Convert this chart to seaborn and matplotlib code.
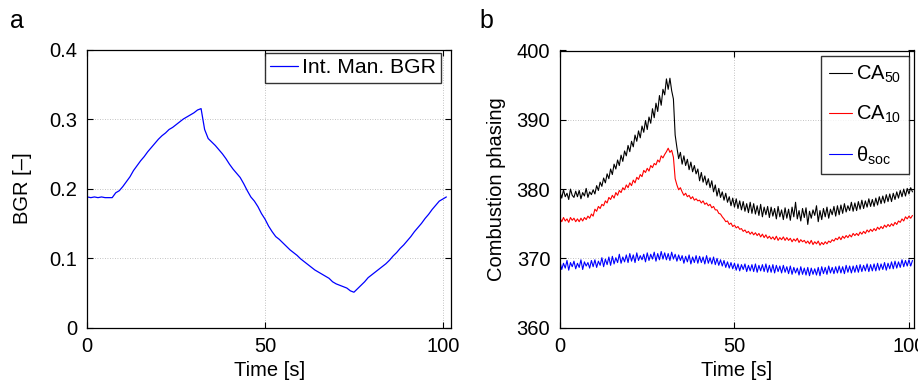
import numpy as np
import pandas as pd
import matplotlib
matplotlib.use("Agg")
import matplotlib.pyplot as plt
import seaborn as sns

# ---------------- data ----------------
bgr_time = np.arange(0, 102, 1.0)
bgr = [0.188, 0.187, 0.188, 0.187, 0.188, 0.187, 0.187, 0.187, 0.194, 0.197,
       0.203, 0.210, 0.217, 0.226, 0.233, 0.240, 0.246, 0.253, 0.259, 0.265,
       0.271, 0.276, 0.280, 0.285, 0.288, 0.292, 0.296, 0.300, 0.303, 0.306,
       0.309, 0.313, 0.315, 0.285, 0.272, 0.267, 0.262, 0.256, 0.250, 0.243,
       0.235, 0.228, 0.222, 0.216, 0.207, 0.197, 0.188, 0.182, 0.174, 0.164,
       0.156, 0.146, 0.138, 0.131, 0.127, 0.122, 0.117, 0.112, 0.108, 0.104,
       0.099, 0.095, 0.091, 0.087, 0.083, 0.080, 0.077, 0.074, 0.071, 0.066,
       0.063, 0.061, 0.059, 0.057, 0.053, 0.051, 0.056, 0.061, 0.066, 0.072,
       0.076, 0.080, 0.084, 0.088, 0.092, 0.097, 0.103, 0.108, 0.114, 0.119,
       0.125, 0.131, 0.138, 0.144, 0.150, 0.157, 0.163, 0.170, 0.176, 0.182,
       0.185, 0.188]

comb_time = np.arange(0, 101.01, 0.5)
ca50 = [379.6, 378.7, 379.9, 378.9, 379.4, 378.5, 380.0, 379.1, 378.8, 379.7,
        378.9, 379.8, 378.6, 379.5, 379.0, 380.1, 378.8, 379.6, 379.2, 379.9,
        379.3, 380.5, 379.8, 381.0, 380.4, 381.6, 380.9, 382.2, 381.5, 382.9,
        382.1, 383.6, 382.9, 384.2, 383.4, 384.9, 384.0, 385.5, 384.8, 386.3,
        385.4, 386.9, 386.1, 387.8, 386.9, 388.4, 387.4, 389.1, 388.2, 389.9,
        388.6, 390.4, 389.5, 391.6, 390.3, 392.4, 391.2, 393.5, 392.1, 394.4,
        393.6, 395.9, 394.4, 396.0, 394.2, 393.0, 387.8, 386.0, 384.4, 385.3,
        383.6, 384.8, 383.4, 384.3, 382.8, 383.9, 382.5, 383.4, 382.2, 382.9,
        381.2, 382.4, 381.0, 381.9, 380.6, 381.5, 380.2, 381.2, 379.6, 380.6,
        379.0, 380.1, 378.8, 379.6, 378.4, 379.4, 378.1, 378.9, 377.6, 378.7,
        377.4, 378.6, 377.2, 378.3, 377.0, 378.2, 376.8, 377.9, 376.6, 378.1,
        376.5, 377.9, 376.4, 377.6, 376.2, 377.8, 376.0, 377.4, 376.3, 377.5,
        375.9, 377.4, 376.1, 377.2, 375.7, 377.5, 376.0, 377.0, 375.6, 377.3,
        375.8, 377.1, 375.5, 377.4, 376.0, 378.1, 375.7, 376.9, 375.4, 377.2,
        375.9, 377.3, 374.9, 376.8, 375.8, 377.0, 376.2, 377.6, 375.3, 376.9,
        375.6, 377.2, 376.0, 377.4, 375.8, 377.1, 376.3, 377.5, 376.1, 377.6,
        376.3, 377.7, 376.5, 377.9, 376.7, 377.6, 376.9, 378.1, 376.8, 378.0,
        376.9, 378.2, 377.1, 378.4, 377.2, 378.3, 377.4, 378.6, 377.5, 378.5,
        377.5, 378.7, 377.7, 378.9, 377.9, 379.0, 378.0, 379.2, 378.2, 379.3,
        378.2, 379.4, 378.5, 379.6, 378.7, 379.8, 378.9, 380.0, 379.0, 380.1,
        379.3, 380.2, 379.6]
ca10 = [375.8, 375.3, 375.9, 375.4, 375.7, 375.2, 375.9, 375.5, 375.8, 375.3,
        375.7, 375.3, 375.8, 375.4, 375.9, 375.6, 376.1, 375.8, 376.4, 376.1,
        377.1, 376.8, 377.5, 377.2, 377.8, 377.6, 378.3, 378.0, 378.8, 378.5,
        379.1, 378.7, 379.5, 379.1, 379.8, 379.5, 380.2, 379.9, 380.6, 380.2,
        380.9, 380.5, 381.3, 380.9, 381.7, 381.4, 382.1, 381.8, 382.7, 382.4,
        383.0, 382.6, 383.4, 383.1, 383.7, 383.5, 384.2, 383.9, 384.8, 384.5,
        385.0, 385.4, 385.9, 385.3, 385.6, 384.6, 381.5, 380.6, 379.9, 380.2,
        379.6, 379.1, 379.4, 378.9, 379.1, 378.6, 378.9, 378.4, 378.6, 378.3,
        378.4, 378.0, 378.3, 377.8, 378.0, 377.6, 377.8, 377.3, 377.5, 377.0,
        377.0, 376.5, 376.4, 376.0, 375.7, 375.3, 375.4, 374.9, 375.1, 374.6,
        374.8, 374.4, 374.6, 374.2, 374.3, 373.9, 374.1, 373.7, 373.9, 373.5,
        373.8, 373.4, 373.7, 373.3, 373.6, 373.1, 373.5, 373.0, 373.4, 372.9,
        373.2, 372.8, 373.1, 372.7, 373.2, 372.6, 373.0, 372.7, 373.1, 372.6,
        373.0, 372.6, 372.9, 372.4, 372.8, 372.5, 372.9, 372.3, 372.7, 372.4,
        372.6, 372.2, 372.5, 372.1, 372.6, 372.0, 372.4, 372.1, 372.5, 371.9,
        372.3, 372.0, 372.4, 372.1, 372.5, 372.3, 372.7, 372.5, 372.9, 372.7,
        373.1, 372.7, 373.2, 372.9, 373.3, 373.0, 373.4, 373.1, 373.6, 373.3,
        373.6, 373.3, 373.8, 373.5, 373.9, 373.6, 374.1, 373.8, 374.2, 373.9,
        374.3, 374.0, 374.5, 374.2, 374.6, 374.3, 374.8, 374.5, 374.9, 374.6,
        375.0, 374.7, 375.2, 374.9, 375.4, 375.2, 375.7, 375.4, 376.0, 375.7,
        376.1, 375.8, 376.2]
theta_soc = [369.5, 368.4, 369.3, 368.6, 369.7, 368.3, 369.4, 368.8, 369.6, 368.5,
             369.3, 368.7, 369.8, 368.4, 369.5, 368.9, 369.4, 368.6, 369.7, 368.8,
             369.8, 368.7, 369.6, 369.0, 370.1, 368.8, 369.9, 369.1, 370.2, 369.0,
             370.3, 369.2, 370.1, 369.4, 370.6, 369.3, 370.2, 369.5, 370.5, 369.4,
             370.7, 369.6, 370.5, 369.4, 370.8, 369.7, 370.4, 369.8, 370.6, 369.5,
             370.8, 369.7, 370.6, 369.9, 370.9, 369.6, 370.7, 369.8, 371.0, 369.9,
             370.8, 369.8, 370.7, 369.7, 370.9, 369.9, 370.6, 369.6, 370.5, 369.7,
             370.4, 369.3, 370.3, 369.5, 370.5, 369.2, 370.2, 369.4, 370.4, 369.3,
             370.3, 369.4, 370.2, 369.2, 370.4, 369.3, 370.1, 369.2, 370.2, 369.1,
             370.0, 369.0, 369.8, 368.9, 369.7, 368.7, 369.5, 368.6, 369.4, 368.5,
             369.3, 368.3, 369.2, 368.2, 369.1, 368.4, 369.2, 368.1, 369.0, 368.2,
             369.1, 368.1, 369.2, 368.0, 369.0, 368.2, 369.1, 368.1, 369.2, 368.0,
             369.0, 368.0, 369.1, 367.9, 369.0, 368.1, 368.9, 367.9, 369.0, 368.0,
             368.8, 367.8, 368.9, 367.7, 368.7, 367.9, 368.6, 367.6, 368.8, 367.7,
             368.6, 367.6, 368.7, 367.5, 368.6, 367.7, 368.5, 367.6, 368.7, 367.5,
             368.8, 367.8, 368.7, 367.7, 368.9, 367.9, 368.7, 367.8, 368.8, 367.9,
             368.9, 367.9, 368.8, 367.8, 369.0, 368.0, 368.9, 367.9, 368.9, 368.0,
             369.0, 368.0, 369.1, 368.1, 369.0, 368.2, 369.2, 368.1, 369.1, 368.2,
             369.2, 368.2, 369.3, 368.3, 369.2, 368.4, 369.4, 368.3, 369.3, 368.5,
             369.5, 368.5, 369.6, 368.6, 369.5, 368.7, 369.8, 368.8, 369.7, 368.9,
             369.8, 368.9, 369.7]

x_ticks = [0, 50, 100]
bgr_ticks = [0, 0.1, 0.2, 0.3, 0.4]
bgr_ticklabels = ["0", "0.1", "0.2", "0.3", "0.4"]
comb_ticks = [360, 370, 380, 390, 400]

# ---------------- style ----------------
sns.set_theme(style="white")
plt.rcParams["font.family"] = ["Liberation Sans", "DejaVu Sans"]
plt.rcParams["mathtext.fontset"] = "custom"
plt.rcParams["mathtext.rm"] = "Liberation Sans"
plt.rcParams["mathtext.it"] = "Liberation Sans:italic"
plt.rcParams["mathtext.bf"] = "Liberation Sans:bold"
plt.rcParams["axes.unicode_minus"] = False
for k in ["text.color", "axes.labelcolor", "xtick.color", "ytick.color"]:
    plt.rcParams[k] = "black"

FS = 14.5

fig = plt.figure(figsize=(9.18, 3.92), dpi=100)
fig.patch.set_facecolor("white")
H = 392.0
W = 918.0
L1, R1, T1, B = 87.3, 451.0, 49.5, 327.7
L2, R2, T2 = 560.0, 913.5, 50.5
ax1 = fig.add_axes([L1 / W, (H - B) / H, (R1 - L1) / W, (B - T1) / H])
ax2 = fig.add_axes([L2 / W, (H - B) / H, (R2 - L2) / W, (B - T2) / H])

df_bgr = pd.DataFrame({"t": bgr_time, "v": bgr})
sns.lineplot(data=df_bgr, x="t", y="v", ax=ax1, color=(0, 0, 1), lw=0.9,
             estimator=None, label="Int. Man. BGR")

df_c = pd.DataFrame({"t": comb_time, "ca50": ca50, "ca10": ca10, "soc": theta_soc})
sns.lineplot(data=df_c, x="t", y="ca50", ax=ax2, color="black", lw=0.8,
             estimator=None, label=r"CA$_{50}$")
sns.lineplot(data=df_c, x="t", y="ca10", ax=ax2, color=(1, 0, 0), lw=0.8,
             estimator=None, label=r"CA$_{10}$")
sns.lineplot(data=df_c, x="t", y="soc", ax=ax2, color=(0, 0, 1), lw=0.8,
             estimator=None, label=r"θ$_{\mathrm{soc}}$")

def style(ax, xmax, yticks, ylim, ylabel, ylabelpad, yticklabels=None):
    ax.set_xlim(0, xmax)
    ax.set_ylim(*ylim)
    ax.set_xticks(x_ticks)
    ax.set_yticks(yticks)
    if yticklabels is not None:
        ax.set_yticklabels(yticklabels)
    ax.set_xlabel("Time [s]", fontsize=FS, labelpad=3)
    ax.set_ylabel(ylabel, fontsize=FS, labelpad=ylabelpad)
    ax.tick_params(axis="both", which="major", direction="in", length=4,
                   width=0.8, labelsize=FS, colors="black", top=True,
                   right=True, bottom=True, left=True, pad=7)
    ax.grid(True, linestyle=(0, (1, 2)), color="#b0b0b0", linewidth=0.6)
    for s in ax.spines.values():
        s.set_visible(True)
        s.set_color("black")
        s.set_linewidth(0.9)
    ax.set_facecolor("white")

style(ax1, 102.3, bgr_ticks, (0, 0.4), "BGR [–]", 13, bgr_ticklabels)
style(ax2, 101.3, comb_ticks, (360, 400), "Combustion phasing", 8)

leg1 = ax1.legend(loc="upper right",
                  bbox_to_anchor=((441 - L1) / (R1 - L1), (B - 53) / (B - T1)),
                  borderaxespad=0, fontsize=15.2, frameon=True, fancybox=False,
                  edgecolor="black", handlelength=1.3, handletextpad=0.2,
                  borderpad=0.25)
leg1.get_frame().set_linewidth(1.0)
leg2 = ax2.legend(loc="upper right",
                  bbox_to_anchor=((909 - L2) / (R2 - L2), (B - 56) / (B - T2)),
                  borderaxespad=0, fontsize=FS, frameon=True, fancybox=False,
                  edgecolor="black", handlelength=1.15, handletextpad=0.2,
                  borderpad=0.38, labelspacing=0.95)
leg2.get_frame().set_linewidth(1.0)

fig.text(10 / W, 1 - 21 / H, "a", fontsize=18, va="center", ha="left")
fig.text(479 / W, 1 - 21 / H, "b", fontsize=18, va="center", ha="left")

fig.savefig("out.png", dpi=100, facecolor="white")
